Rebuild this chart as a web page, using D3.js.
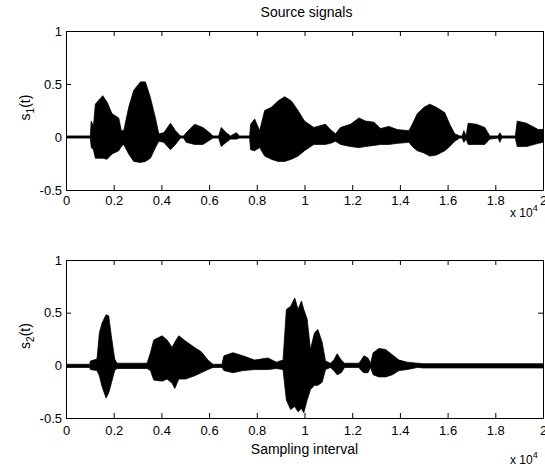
<!DOCTYPE html>
<html>
<head>
<meta charset="utf-8">
<script src="https://cdn.jsdelivr.net/npm/d3@7/dist/d3.min.js"></script>
<style>
  html, body { margin: 0; padding: 0; background: #fff; }
  svg { display: block; }
  text { font-family: "Liberation Sans", Arial, Helvetica, sans-serif; fill: #000; }
</style>
</head>
<body>
<div id="chart"></div>
<script>
// ---- Data (x in units of 10^4 samples; envelope upper / lower amplitude) ----
const xTickValues = [0, 0.2, 0.4, 0.6, 0.8, 1, 1.2, 1.4, 1.6, 1.8, 2];
const xTickLabels = ["0", "0.2", "0.4", "0.6", "0.8", "1", "1.2", "1.4", "1.6", "1.8", "2"];
const yTickValues = [-0.5, 0, 0.5, 1];
const yTickLabels = ["-0.5", "0", "0.5", "1"];

// Source signal 1 envelope: [x, upper, lower]
const s1Envelope = [
  [0, 0.01, -0.01], [0.102, 0.01, -0.01], [0.106, 0.15, -0.10], [0.115, 0.10, -0.12],
  [0.123, 0.31, -0.20], [0.154, 0.39, -0.20], [0.172, 0.33, -0.21], [0.193, 0.22, -0.16],
  [0.221, 0.18, -0.13], [0.232, 0.06, -0.09], [0.242, 0.06, -0.07], [0.263, 0.28, -0.16],
  [0.284, 0.44, -0.23], [0.312, 0.52, -0.24], [0.333, 0.52, -0.23], [0.354, 0.37, -0.20],
  [0.375, 0.18, -0.10], [0.389, 0.03, -0.04], [0.41, 0.04, -0.05], [0.438, 0.13, -0.12],
  [0.459, 0.06, -0.07], [0.48, 0.01, -0.01], [0.493, 0.01, -0.01], [0.504, 0.04, -0.05],
  [0.539, 0.12, -0.07], [0.574, 0.09, -0.07], [0.602, 0.04, -0.03], [0.616, 0.01, -0.01],
  [0.64, 0.01, -0.01], [0.651, 0.09, -0.09], [0.672, 0.04, -0.05], [0.69, 0.01, -0.02],
  [0.714, 0.04, -0.02], [0.728, 0.01, -0.01], [0.77, 0.01, -0.01], [0.774, 0.12, -0.12],
  [0.791, 0.17, -0.13], [0.812, 0.06, -0.10], [0.833, 0.25, -0.18], [0.861, 0.28, -0.21],
  [0.889, 0.34, -0.23], [0.917, 0.38, -0.23], [0.945, 0.34, -0.21], [0.973, 0.25, -0.18],
  [1.0, 0.15, -0.13], [1.039, 0.09, -0.07], [1.088, 0.12, -0.07], [1.109, 0.07, -0.06],
  [1.13, 0.03, -0.04], [1.151, 0.09, -0.07], [1.193, 0.12, -0.09], [1.228, 0.18, -0.10],
  [1.256, 0.15, -0.09], [1.291, 0.14, -0.08], [1.319, 0.08, -0.07], [1.354, 0.10, -0.07],
  [1.389, 0.07, -0.06], [1.438, 0.06, -0.05], [1.452, 0.12, -0.09], [1.473, 0.22, -0.13],
  [1.501, 0.28, -0.15], [1.525, 0.31, -0.18], [1.553, 0.28, -0.17], [1.588, 0.23, -0.13],
  [1.609, 0.12, -0.09], [1.63, 0.03, -0.04], [1.651, 0.01, -0.01], [1.661, 0.01, -0.01],
  [1.668, 0.06, -0.05], [1.678, 0.01, -0.02], [1.686, 0.13, -0.07], [1.721, 0.12, -0.07],
  [1.756, 0.09, -0.07], [1.777, 0.01, -0.02], [1.812, 0.01, -0.01], [1.819, 0.04, -0.05],
  [1.827, 0.01, -0.01], [1.884, 0.01, -0.01], [1.892, 0.15, -0.09], [1.931, 0.13, -0.09],
  [1.98, 0.07, -0.06], [2.0, 0.07, -0.05]
];

// Source signal 2 envelope: [x, upper, lower]
const s2Envelope = [
  [0, 0.01, -0.02], [0.10, 0.01, -0.02], [0.102, 0.04, -0.04], [0.130, 0.06, -0.05],
  [0.140, 0.31, -0.10], [0.151, 0.40, -0.20], [0.168, 0.48, -0.31], [0.179, 0.47, -0.26],
  [0.190, 0.28, -0.17], [0.204, 0.06, -0.05], [0.214, 0.02, -0.03], [0.340, 0.02, -0.03],
  [0.354, 0.12, -0.05], [0.368, 0.24, -0.14], [0.403, 0.28, -0.15], [0.424, 0.24, -0.13],
  [0.445, 0.17, -0.17], [0.456, 0.22, -0.22], [0.473, 0.28, -0.13], [0.501, 0.23, -0.13],
  [0.539, 0.17, -0.10], [0.567, 0.13, -0.07], [0.595, 0.05, -0.04], [0.616, 0.01, -0.02],
  [0.654, 0.01, -0.02], [0.662, 0.09, -0.05], [0.700, 0.12, -0.07], [0.742, 0.09, -0.05],
  [0.791, 0.05, -0.04], [0.847, 0.07, -0.04], [0.882, 0.03, -0.03], [0.910, 0.05, -0.04],
  [0.924, 0.53, -0.33], [0.942, 0.56, -0.42], [0.959, 0.64, -0.39], [0.973, 0.53, -0.44],
  [0.987, 0.61, -0.41], [0.997, 0.53, -0.45], [1.011, 0.44, -0.33], [1.025, 0.15, -0.23],
  [1.042, 0.31, -0.19], [1.056, 0.34, -0.19], [1.074, 0.22, -0.16], [1.088, 0.04, -0.04],
  [1.109, 0.02, -0.02], [1.123, 0.05, -0.05], [1.137, 0.11, -0.09], [1.154, 0.05, -0.07],
  [1.168, 0.02, -0.02], [1.228, 0.02, -0.02], [1.238, 0.05, -0.05], [1.249, 0.09, -0.07],
  [1.266, 0.07, -0.07], [1.277, 0.02, -0.02], [1.288, 0.12, -0.09], [1.312, 0.16, -0.11],
  [1.340, 0.15, -0.11], [1.368, 0.10, -0.09], [1.396, 0.05, -0.05], [1.431, 0.03, -0.04],
  [1.473, 0.02, -0.02], [1.501, 0.015, -0.025], [2.0, 0.015, -0.025]
];

const panels = [
  { data: s1Envelope, top: 31, bottom: 190, ylabel: "s", sub: "1", title: "Source signals", xlabel: null, expY: 217, pad: 6 },
  { data: s2Envelope, top: 260, bottom: 418, ylabel: "s", sub: "2", title: null, xlabel: "Sampling interval", expY: 464, pad: 8 }
];

// ---- Layout ----
const W = 545, H = 468;
const left = 66, right = 543;
const tickFont = 13;
const labelFont = 14;

const svg = d3.select("#chart").append("svg").attr("width", W).attr("height", H);

const x = d3.scaleLinear().domain([0, 2]).range([left, right]);

panels.forEach((p, i) => {
  const y = d3.scaleLinear().domain([-0.5, 1]).range([p.bottom, p.top]);
  const g = svg.append("g");

  const clipId = "clip" + i;
  svg.append("clipPath").attr("id", clipId)
    .append("rect").attr("x", left).attr("y", p.top).attr("width", right - left).attr("height", p.bottom - p.top);

  const area = d3.area()
    .x(d => x(d[0]))
    .y0(d => y(d[2]))
    .y1(d => y(d[1]))
    .curve(d3.curveLinear);
  g.append("path")
    .datum(p.data)
    .attr("clip-path", `url(#${clipId})`)
    .attr("d", area)
    .attr("fill", "#000")
    .attr("stroke", "#000")
    .attr("stroke-width", 0.8);

  const axB = d3.axisBottom(x).tickValues(xTickValues)
    .tickFormat((d, k) => xTickLabels[k]).tickSizeInner(-5).tickSizeOuter(0).tickPadding(p.pad);
  const axT = d3.axisTop(x).tickValues(xTickValues).tickFormat("").tickSizeInner(-5).tickSizeOuter(0);
  const axL = d3.axisLeft(y).tickValues(yTickValues)
    .tickFormat((d, k) => yTickLabels[k]).tickSizeInner(-5).tickSizeOuter(0).tickPadding(4);
  const axR = d3.axisRight(y).tickValues(yTickValues).tickFormat("").tickSizeInner(-5).tickSizeOuter(0);

  const styleAxis = sel => {
    sel.selectAll("path.domain").attr("stroke", "#000");
    sel.selectAll(".tick line").attr("stroke", "#000");
    sel.selectAll(".tick text").attr("font-size", tickFont).attr("fill", "#000")
      .attr("font-family", "Liberation Sans, Arial, sans-serif");
  };

  g.append("g").attr("transform", `translate(0,${p.bottom})`).call(axB).call(styleAxis);
  g.append("g").attr("transform", `translate(0,${p.top})`).call(axT).call(styleAxis);
  g.append("g").attr("transform", `translate(${left},0)`).call(axL).call(styleAxis);
  g.append("g").attr("transform", `translate(${right},0)`).call(axR).call(styleAxis);

  // y label with subscript
  const cy = (p.top + p.bottom) / 2 - 3;
  const yl = g.append("text")
    .attr("transform", `translate(30,${cy}) rotate(-90)`)
    .attr("text-anchor", "middle")
    .attr("font-size", labelFont);
  yl.append("tspan").text(p.ylabel);
  yl.append("tspan").attr("font-size", 10).attr("dy", 4).text(p.sub);
  yl.append("tspan").attr("dy", -4).text("(t)");

  if (p.title) {
    g.append("text").attr("x", (left + right) / 2 + 2).attr("y", p.top - 14)
      .attr("text-anchor", "middle").attr("font-size", labelFont).text(p.title);
  }
  if (p.xlabel) {
    g.append("text").attr("x", (left + right) / 2).attr("y", p.bottom + 36)
      .attr("text-anchor", "middle").attr("font-size", labelFont).text(p.xlabel);
  }
  const ex = g.append("text").attr("x", 510).attr("y", p.expY).attr("font-size", 12);
  ex.append("tspan").text("x 10");
  ex.append("tspan").attr("font-size", 9).attr("dy", -6).text("4");
});
</script>
</body>
</html>
